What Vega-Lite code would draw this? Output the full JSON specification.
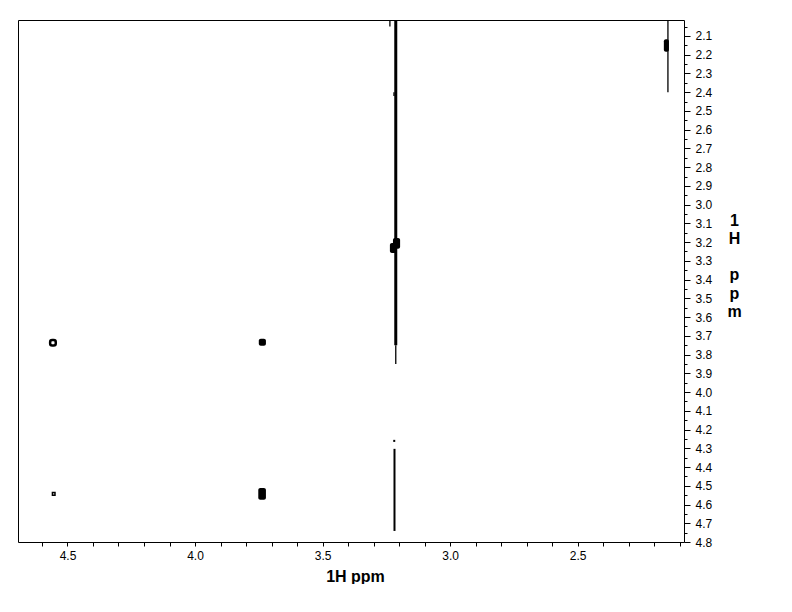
{
  "$schema": "https://vega.github.io/schema/vega-lite/v6.json",
  "width": 666,
  "height": 522,
  "padding": {"left": 18, "top": 18, "right": 0, "bottom": 0},
  "autosize": {"type": "pad"},
  "background": "white",
  "config": {
    "view": {"stroke": "black", "strokeWidth": 1},
    "font": "Liberation Sans",
    "axisX": {"domain": false, "grid": false, "tickSize": 4, "tickColor": "black", "tickWidth": 1,
      "labelColor": "black", "labelFontSize": 12, "labelPadding": 4, "labelFlush": false, "labelOverlap": false,
      "titleFontSize": 16, "titleFontWeight": "bold", "titleColor": "black",
      "titleX": 337, "titleY": 39, "titleAlign": "center", "titleBaseline": "alphabetic"}
  },
  "datasets": {
    "traces": [
      {"x": 3.213, "y": 2.015, "y2": 3.75, "part": "thick"},
      {"x": 3.213, "y": 3.75, "y2": 3.85, "part": "thin"},
      {"x": 3.236, "y": 2.015, "y2": 2.05, "part": "thin"},
      {"x": 3.22, "y": 2.40, "y2": 2.42, "part": "thin"},
      {"x": 2.146, "y": 2.015, "y2": 2.40, "part": "thin"},
      {"x": 3.218, "y": 4.303, "y2": 4.741, "part": "medium"},
      {"x": 3.219, "y": 4.255, "y2": 4.266, "part": "medium"}
    ],
    "peaks": [
      {"x": 3.750, "x2": 3.722, "y": 3.716, "y2": 3.753, "kind": "blob"},
      {"x": 3.752, "x2": 3.722, "y": 4.512, "y2": 4.575, "kind": "blob"},
      {"x": 3.224, "x2": 3.196, "y": 3.178, "y2": 3.235, "kind": "blob"},
      {"x": 3.236, "x2": 3.210, "y": 3.205, "y2": 3.258, "kind": "blob"},
      {"x": 2.162, "x2": 2.142, "y": 2.118, "y2": 2.184, "kind": "blob"},
      {"x": 4.568, "x2": 4.546, "y": 3.722, "y2": 3.752, "kind": "ring"},
      {"x": 4.559, "x2": 4.549, "y": 4.536, "y2": 4.550, "kind": "dot"}
    ]
  },
  "layer": [
    {
      "data": {"name": "traces"},
      "transform": [{"filter": "datum.part === 'thick'"}],
      "mark": {"type": "rule", "strokeWidth": 3, "color": "black"},
      "encoding": {
        "x": {"field": "x", "type": "quantitative",
          "scale": {"domain": [2.083, 4.694], "reverse": true, "nice": false, "zero": false},
          "axis": {"orient": "bottom",
            "values": [4.6, 4.5, 4.4, 4.3, 4.2, 4.1, 4.0, 3.9, 3.8, 3.7, 3.6, 3.5, 3.4, 3.3, 3.2, 3.1, 3.0, 2.9, 2.8, 2.7, 2.6, 2.5, 2.4, 2.3, 2.2, 2.1],
            "labelExpr": "abs(datum.value * 2 - round(datum.value * 2)) < 0.001 ? format(datum.value, '.1f') : ''",
            "title": "1H ppm"}},
        "y": {"field": "y", "type": "quantitative",
          "scale": {"domain": [2.015, 4.8], "reverse": true, "nice": false, "zero": false},
          "axis": {"orient": "right",
            "values": [2.1, 2.2, 2.3, 2.4, 2.5, 2.6, 2.7, 2.8, 2.9, 3.0, 3.1, 3.2, 3.3, 3.4, 3.5, 3.6, 3.7, 3.8, 3.9, 4.0, 4.1, 4.2, 4.3, 4.4, 4.5, 4.6, 4.7, 4.8],
            "format": ".1f", "domain": false, "grid": false, "tickSize": 6, "tickColor": "black", "tickWidth": 1,
            "labelColor": "black", "labelFontSize": 12, "labelPadding": 5, "labelFlush": false, "labelOverlap": false,
            "title": ["1", "H", "\u200b", "p", "p", "m"], "titleAngle": 0, "titleFontSize": 16, "titleFontWeight": "bold",
            "titleColor": "black", "titleX": 50, "titleY": 192, "titleAlign": "center", "titleBaseline": "top", "titleLineHeight": 18.3}},
        "y2": {"field": "y2"}
      }
    },
    {
      "data": {"name": "traces"},
      "transform": [{"filter": "datum.part === 'thin'"}],
      "mark": {"type": "rule", "strokeWidth": 1.3, "color": "black"},
      "encoding": {
        "x": {"field": "x", "type": "quantitative",
          "scale": {"domain": [2.083, 4.694], "reverse": true, "nice": false, "zero": false},
          "axis": {"orient": "bottom",
            "values": [4.6, 4.5, 4.4, 4.3, 4.2, 4.1, 4.0, 3.9, 3.8, 3.7, 3.6, 3.5, 3.4, 3.3, 3.2, 3.1, 3.0, 2.9, 2.8, 2.7, 2.6, 2.5, 2.4, 2.3, 2.2, 2.1],
            "labelExpr": "abs(datum.value * 2 - round(datum.value * 2)) < 0.001 ? format(datum.value, '.1f') : ''",
            "title": "1H ppm"}},
        "y": {"field": "y", "type": "quantitative",
          "scale": {"domain": [2.015, 4.8], "reverse": true, "nice": false, "zero": false},
          "axis": {"orient": "right",
            "values": [2.05, 2.15, 2.25, 2.35, 2.45, 2.55, 2.65, 2.75, 2.85, 2.95, 3.05, 3.15, 3.25, 3.35, 3.45, 3.55, 3.65, 3.75, 3.85, 3.95, 4.05, 4.15, 4.25, 4.35, 4.45, 4.55, 4.65, 4.75],
            "labels": false, "domain": false, "grid": false, "tickSize": 3, "tickColor": "black", "tickWidth": 1, "title": null}},
        "y2": {"field": "y2"}
      }
    },
    {
      "data": {"name": "traces"},
      "transform": [{"filter": "datum.part === 'medium'"}],
      "mark": {"type": "rule", "strokeWidth": 2, "color": "black"},
      "encoding": {
        "x": {"field": "x", "type": "quantitative",
          "scale": {"domain": [2.083, 4.694], "reverse": true, "nice": false, "zero": false},
          "axis": {"orient": "bottom",
            "values": [4.6, 4.5, 4.4, 4.3, 4.2, 4.1, 4.0, 3.9, 3.8, 3.7, 3.6, 3.5, 3.4, 3.3, 3.2, 3.1, 3.0, 2.9, 2.8, 2.7, 2.6, 2.5, 2.4, 2.3, 2.2, 2.1],
            "labelExpr": "abs(datum.value * 2 - round(datum.value * 2)) < 0.001 ? format(datum.value, '.1f') : ''",
            "title": "1H ppm"}},
        "y": {"field": "y", "type": "quantitative",
          "scale": {"domain": [2.015, 4.8], "reverse": true, "nice": false, "zero": false}, "axis": null},
        "y2": {"field": "y2"}
      }
    },
    {
      "data": {"name": "peaks"},
      "transform": [{"filter": "datum.kind === 'blob'"}],
      "mark": {"type": "rect", "color": "black", "cornerRadius": 2},
      "encoding": {
        "x": {"field": "x", "type": "quantitative",
          "scale": {"domain": [2.083, 4.694], "reverse": true, "nice": false, "zero": false},
          "axis": {"orient": "bottom",
            "values": [4.6, 4.5, 4.4, 4.3, 4.2, 4.1, 4.0, 3.9, 3.8, 3.7, 3.6, 3.5, 3.4, 3.3, 3.2, 3.1, 3.0, 2.9, 2.8, 2.7, 2.6, 2.5, 2.4, 2.3, 2.2, 2.1],
            "labelExpr": "abs(datum.value * 2 - round(datum.value * 2)) < 0.001 ? format(datum.value, '.1f') : ''",
            "title": "1H ppm"}},
        "x2": {"field": "x2"},
        "y": {"field": "y", "type": "quantitative",
          "scale": {"domain": [2.015, 4.8], "reverse": true, "nice": false, "zero": false}, "axis": null},
        "y2": {"field": "y2"}
      }
    },
    {
      "data": {"name": "peaks"},
      "transform": [{"filter": "datum.kind === 'ring'"}],
      "mark": {"type": "rect", "fill": "white", "stroke": "black", "strokeWidth": 2.5, "cornerRadius": 2},
      "encoding": {
        "x": {"field": "x", "type": "quantitative",
          "scale": {"domain": [2.083, 4.694], "reverse": true, "nice": false, "zero": false},
          "axis": {"orient": "bottom",
            "values": [4.6, 4.5, 4.4, 4.3, 4.2, 4.1, 4.0, 3.9, 3.8, 3.7, 3.6, 3.5, 3.4, 3.3, 3.2, 3.1, 3.0, 2.9, 2.8, 2.7, 2.6, 2.5, 2.4, 2.3, 2.2, 2.1],
            "labelExpr": "abs(datum.value * 2 - round(datum.value * 2)) < 0.001 ? format(datum.value, '.1f') : ''",
            "title": "1H ppm"}},
        "x2": {"field": "x2"},
        "y": {"field": "y", "type": "quantitative",
          "scale": {"domain": [2.015, 4.8], "reverse": true, "nice": false, "zero": false}, "axis": null},
        "y2": {"field": "y2"}
      }
    },
    {
      "data": {"name": "peaks"},
      "transform": [{"filter": "datum.kind === 'dot'"}],
      "mark": {"type": "rect", "fill": "white", "stroke": "black", "strokeWidth": 1.5},
      "encoding": {
        "x": {"field": "x", "type": "quantitative",
          "scale": {"domain": [2.083, 4.694], "reverse": true, "nice": false, "zero": false},
          "axis": {"orient": "bottom",
            "values": [4.6, 4.5, 4.4, 4.3, 4.2, 4.1, 4.0, 3.9, 3.8, 3.7, 3.6, 3.5, 3.4, 3.3, 3.2, 3.1, 3.0, 2.9, 2.8, 2.7, 2.6, 2.5, 2.4, 2.3, 2.2, 2.1],
            "labelExpr": "abs(datum.value * 2 - round(datum.value * 2)) < 0.001 ? format(datum.value, '.1f') : ''",
            "title": "1H ppm"}},
        "x2": {"field": "x2"},
        "y": {"field": "y", "type": "quantitative",
          "scale": {"domain": [2.015, 4.8], "reverse": true, "nice": false, "zero": false}, "axis": null},
        "y2": {"field": "y2"}
      }
    }
  ],
  "resolve": {"axis": {"y": "independent"}}
}
